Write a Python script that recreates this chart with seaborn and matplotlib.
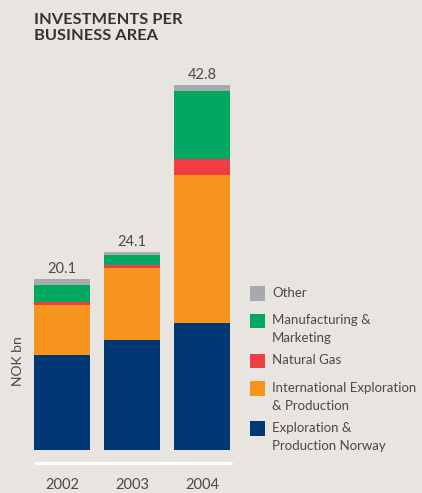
import pandas as pd
import matplotlib.pyplot as plt
import matplotlib.patches as mpatches
import seaborn as sns

# ============================
# Data (NOK bn)
# ============================
years = ["2002", "2003", "2004"]
ep_norway = [11.1, 12.9, 14.9]
intl_ep = [5.85, 8.4, 17.35]
natural_gas = [0.43, 0.4, 1.85]
manuf_marketing = [2.0, 1.15, 8.0]
other = [0.7, 0.35, 0.7]
total_labels = ["20.1", "24.1", "42.8"]

segments = ["Exploration &\nProduction Norway", "International Exploration\n& Production",
            "Natural Gas", "Manufacturing &\nMarketing", "Other"]
colors = ["#003876", "#F7941D", "#EF3E42", "#00A862", "#A7A9AC"]

df = pd.DataFrame({
    "year": years,
    segments[0]: ep_norway,
    segments[1]: intl_ep,
    segments[2]: natural_gas,
    segments[3]: manuf_marketing,
    segments[4]: other,
})
cum = df[segments].cumsum(axis=1)

# ============================
# Plot
# ============================
W, H = 422, 493
bg = "#E8E4DF"
txt = "#4A4A4A"

sns.set_theme(style="white")
plt.rcParams["font.family"] = ["Lato", "DejaVu Sans"]

fig = plt.figure(figsize=(W / 100, H / 100), dpi=100, facecolor=bg)
ax = fig.add_axes([34 / W, 43 / H, 196 / W, 384 / H])
ax.set_facecolor(bg)

# stacked bars: draw cumulative totals from top down
for seg, col in reversed(list(zip(segments, colors))):
    sns.barplot(x=df["year"], y=cum[seg], color=col, width=0.8,
                saturation=1, linewidth=0, ax=ax, zorder=2)

ax.set_xlim(-0.4, 2.4)
ax.set_ylim(0, 45)
sns.despine(ax=ax, left=True, bottom=True)
ax.set_yticks([])
ax.set_xlabel("")
ax.set_ylabel("")
ax.tick_params(axis="x", length=0, pad=20, labelsize=10.5, labelcolor=txt)

# total labels
for i, lab in enumerate(total_labels):
    ax.annotate(lab, (i, cum[segments[-1]].iloc[i]), xytext=(0, 2),
                textcoords="offset points", ha="center", va="bottom",
                fontsize=10.5, color=txt)

# white baseline rule below the bars
fig.add_artist(plt.Line2D([35 / W, 231 / W], [1 - 463 / H, 1 - 463 / H],
                          color="white", lw=2.2))

# title and axis label
fig.text(34 / W, 1 - 13 / H, "INVESTMENTS PER\nBUSINESS AREA", ha="left", va="top",
         fontsize=11.8, fontweight="bold", color="#333333", linespacing=1.15)
fig.text(18 / W, 1 - 361 / H, "NOK bn", rotation=90, ha="center", va="center",
         fontsize=10, color=txt)

# legend (custom layout, square aligned with first text line)
y = 286
sq = 14.5
for seg, col in reversed(list(zip(segments, colors))):
    fig.add_artist(mpatches.Rectangle((250 / W, 1 - (y + sq) / H), sq / W, sq / H,
                                      transform=fig.transFigure, color=col, lw=0))
    fig.text(272 / W, 1 - (y + 1) / H, seg, ha="left", va="top", fontsize=9.5,
             color=txt, linespacing=1.55)
    nlines = seg.count("\n") + 1
    y += 27.5 + 12.5 * (nlines - 1)

fig.savefig("out.png", dpi=100, facecolor=bg)
